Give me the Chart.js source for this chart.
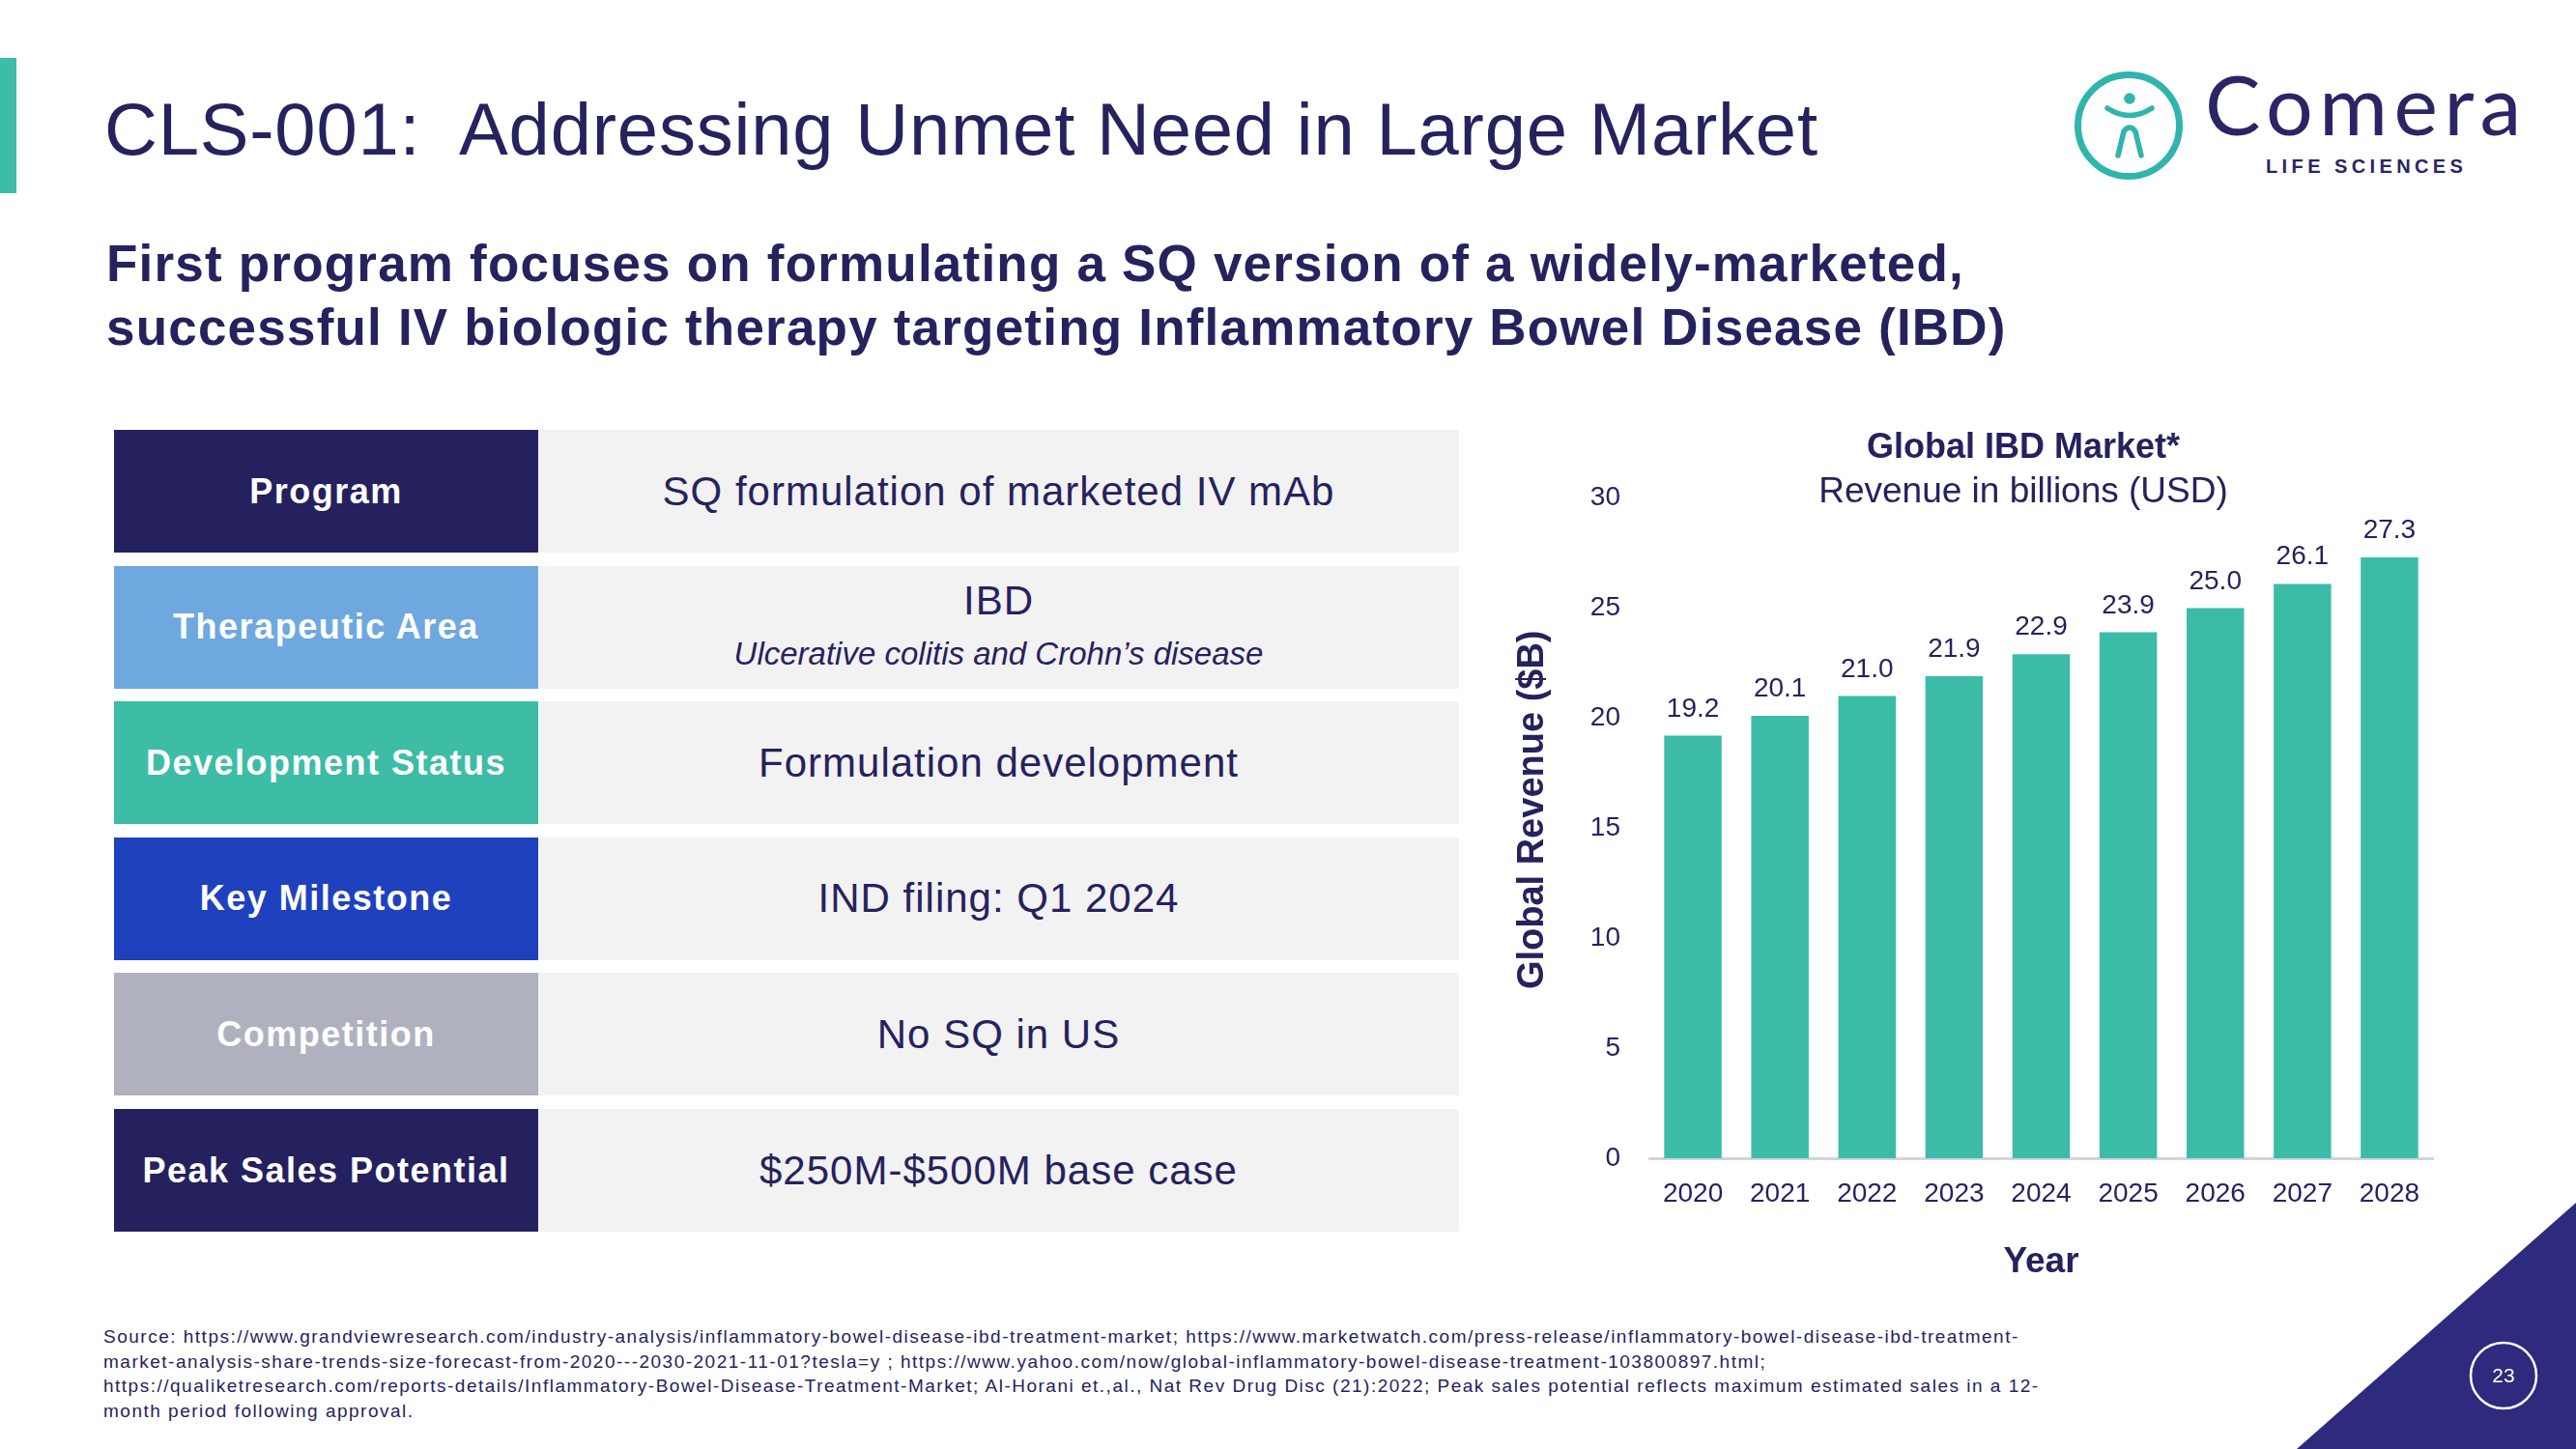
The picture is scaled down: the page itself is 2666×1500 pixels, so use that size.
<!DOCTYPE html>
<html lang="en">
<head>
<meta charset="UTF-8">
<title>CLS-001: Addressing Unmet Need in Large Market</title>
<script src="https://cdn.jsdelivr.net/npm/chart.js"></script>
<style>
  html, body { margin: 0; padding: 0; background: #fff; }
  body { width: 2666px; height: 1500px; position: relative; overflow: hidden;
         font-family: "Liberation Sans", Arial, sans-serif; color: #26225e; }
  .abs { position: absolute; }
  #accent { left: 0; top: 60px; width: 17px; height: 140px; background: #3dbca6; }
  #title { left: 108px; top: 96px; font-size: 76px; line-height: 76px; letter-spacing: 0.8px; white-space: nowrap; }
  #subtitle { left: 110px; top: 240px; font-size: 53px; line-height: 66px; font-weight: bold; letter-spacing: 1.2px; white-space: nowrap; }
  .lab { position: absolute; left: 118px; width: 439px; height: 127px; display: flex; align-items: center; justify-content: center;
         color: #fff; font-weight: bold; font-size: 36px; letter-spacing: 1.5px; }
  .val { position: absolute; left: 557px; width: 953px; height: 127px; background: #f2f2f2; display: flex; flex-direction: column;
         align-items: center; justify-content: center; font-size: 42px; letter-spacing: 1px; }
  .val .sub { font-style: italic; font-size: 33px; letter-spacing: 0; margin-top: 12px; }
  .val.two { padding-bottom: 5px; box-sizing: border-box; }
  #brand { left: 2282px; top: 64px; font-family: Lato, sans-serif; font-size: 86px; line-height: 86px; letter-spacing: 6.5px; color: #2b2566; }
  #brand-sub { left: 2345px; top: 162px; font-size: 20px; line-height: 20px; font-weight: bold; letter-spacing: 4.4px; color: #2b2566; }
  #chartBox { left: 1558px; top: 430px; width: 1072px; height: 910px; }
  #source { left: 107px; top: 1371px; font-size: 19px; line-height: 25.5px; letter-spacing: 1.5px; white-space: nowrap; }
  #pageno { left: 2556px; top: 1389px; width: 70px; height: 70px; line-height: 70px; text-align: center; color: #fff; font-size: 21px; }
</style>
</head>
<body>

<div id="accent" class="abs"></div>
<div id="title" class="abs">CLS-001:&nbsp; Addressing Unmet Need in Large Market</div>
<div id="subtitle" class="abs">First program focuses on formulating a SQ version of a widely-marketed,<br>successful IV biologic therapy targeting Inflammatory Bowel Disease (IBD)</div>

<!-- logo -->
<svg class="abs" style="left:2140px; top:70px" width="130" height="120">
  <circle cx="63" cy="60" r="52.5" fill="none" stroke="#2fb5ad" stroke-width="7"/>
  <circle cx="64" cy="32" r="5.8" fill="#2fb5ad"/>
  <path d="M41 42 Q64 57 87 42" fill="none" stroke="#2fb5ad" stroke-width="5.5" stroke-linecap="round"/>
  <path d="M52 91 L58 66 Q64 58 70 66 L76 91" fill="none" stroke="#2fb5ad" stroke-width="5.5" stroke-linecap="round" stroke-linejoin="round"/>
</svg>
<div id="brand" class="abs">Comera</div>
<div id="brand-sub" class="abs">LIFE SCIENCES</div>

<div id="table"></div>

<div id="chartBox" class="abs"><canvas id="marketChart" width="1072" height="910"></canvas></div>

<div id="source" class="abs">
Source: https://www.grandviewresearch.com/industry-analysis/inflammatory-bowel-disease-ibd-treatment-market; https://www.marketwatch.com/press-release/inflammatory-bowel-disease-ibd-treatment-<br>
market-analysis-share-trends-size-forecast-from-2020---2030-2021-11-01?tesla=y ; https://www.yahoo.com/now/global-inflammatory-bowel-disease-treatment-103800897.html;<br>
https://qualiketresearch.com/reports-details/Inflammatory-Bowel-Disease-Treatment-Market; Al-Horani et.,al., Nat Rev Drug Disc (21):2022; Peak sales potential reflects maximum estimated sales in a 12-<br>
month period following approval.
</div>

<svg class="abs" style="left:0; top:0" width="2666" height="1500" pointer-events="none">
  <polygon points="2666,1245 2666,1500 2377,1500" fill="#2e2a7d"/>
  <circle cx="2591" cy="1424" r="34" fill="none" stroke="#fff" stroke-width="2.5"/>
</svg>
<div id="pageno" class="abs">23</div>

<script>
// table rows
const rowLabels = ["Program", "Therapeutic Area", "Development Status", "Key Milestone", "Competition", "Peak Sales Potential"];
const rowValues = ["SQ formulation of marketed IV mAb", "IBD", "Formulation development", "IND filing: Q1 2024", "No SQ in US", "$250M-$500M base case"];
const rowNotes  = ["", "Ulcerative colitis and Crohn\u2019s disease", "", "", "", ""];
const rowColors = ["#25205e", "#6ea8df", "#3dbca6", "#1f41be", "#b0b1bf", "#25205e"];

// chart data
const years   = ["2020", "2021", "2022", "2023", "2024", "2025", "2026", "2027", "2028"];
const revenue = [19.2, 20.1, 21.0, 21.9, 22.9, 23.9, 25.0, 26.1, 27.3];
const yTicks  = [0, 5, 10, 15, 20, 25, 30];

const navy = "#26225e";
const teal = "#3cbca7";

const table = document.getElementById("table");
rowLabels.forEach((label, i) => {
    const top = 445 + i * 140.6;
    const lab = document.createElement("div");
    lab.className = "lab";
    lab.style.top = top + "px";
    lab.style.background = rowColors[i];
    lab.textContent = label;
    table.appendChild(lab);

    const val = document.createElement("div");
    val.className = rowNotes[i] ? "val two" : "val";
    val.style.top = top + "px";
    val.innerHTML = "<div>" + rowValues[i] + "</div>" + (rowNotes[i] ? '<div class="sub">' + rowNotes[i] + "</div>" : "");
    table.appendChild(val);
});

// value labels above each bar
const barLabels = {
    id: "barLabels",
    afterDatasetsDraw(chart) {
        const ctx = chart.ctx;
        ctx.save();
        ctx.font = '28px "Liberation Sans"';
        ctx.fillStyle = navy;
        ctx.textAlign = "center";
        ctx.textBaseline = "alphabetic";
        chart.getDatasetMeta(0).data.forEach((bar, i) => {
            ctx.fillText(revenue[i].toFixed(1), bar.x, bar.y - 20);
        });
        ctx.restore();
    }
};

Chart.defaults.font.family = '"Liberation Sans", Arial, sans-serif';
Chart.defaults.color = navy;

new Chart(document.getElementById("marketChart"), {
    type: "bar",
    data: {
        labels: years,
        datasets: [{
            data: revenue,
            backgroundColor: teal,
            barPercentage: 0.66,
            categoryPercentage: 1
        }]
    },
    options: {
        responsive: false,
        animation: false,
        devicePixelRatio: 1,
        layout: { padding: 0 },
        plugins: {
            legend: { display: false },
            tooltip: { enabled: false },
            title: {
                display: true,
                text: "Global IBD Market*",
                color: navy,
                font: { size: 36, weight: "bold" },
                padding: { top: 12, bottom: 0 }
            },
            subtitle: {
                display: true,
                text: "Revenue in billions (USD)",
                color: navy,
                font: { size: 37 },
                padding: { top: 2, bottom: -16 }
            }
        },
        scales: {
            x: {
                grid: { display: false, drawTicks: false },
                border: { color: "#d3d2df", width: 3 },
                ticks: { font: { size: 28 }, color: navy, padding: 20 },
                title: { display: true, text: "Year", color: navy, font: { size: 37, weight: "bold" }, padding: { top: 0, bottom: 11 } },
                afterFit(s) { s.height = 141; }
            },
            y: {
                min: yTicks[0],
                max: yTicks[yTicks.length - 1],
                grid: { display: false, drawTicks: false },
                border: { display: false },
                afterBuildTicks(s) { s.ticks = yTicks.map(v => ({ value: v })); },
                ticks: { font: { size: 28 }, color: navy, padding: 30 },
                // leading spaces nudge the rotated title up a little, as on the slide
                title: { display: true, text: "\u2002\u2002Global Revenue ($B)", color: navy, font: { size: 38, weight: "bold" }, padding: { top: 6, bottom: 0 } },
                afterFit(s) { s.width = 149; }
            },
            // empty right axis so the title centres like the slide
            right: {
                position: "right",
                grid: { display: false, drawTicks: false },
                border: { display: false },
                ticks: { display: false },
                afterFit(s) { s.width = 112; }
            }
        }
    },
    plugins: [barLabels]
});
</script>
</body>
</html>
